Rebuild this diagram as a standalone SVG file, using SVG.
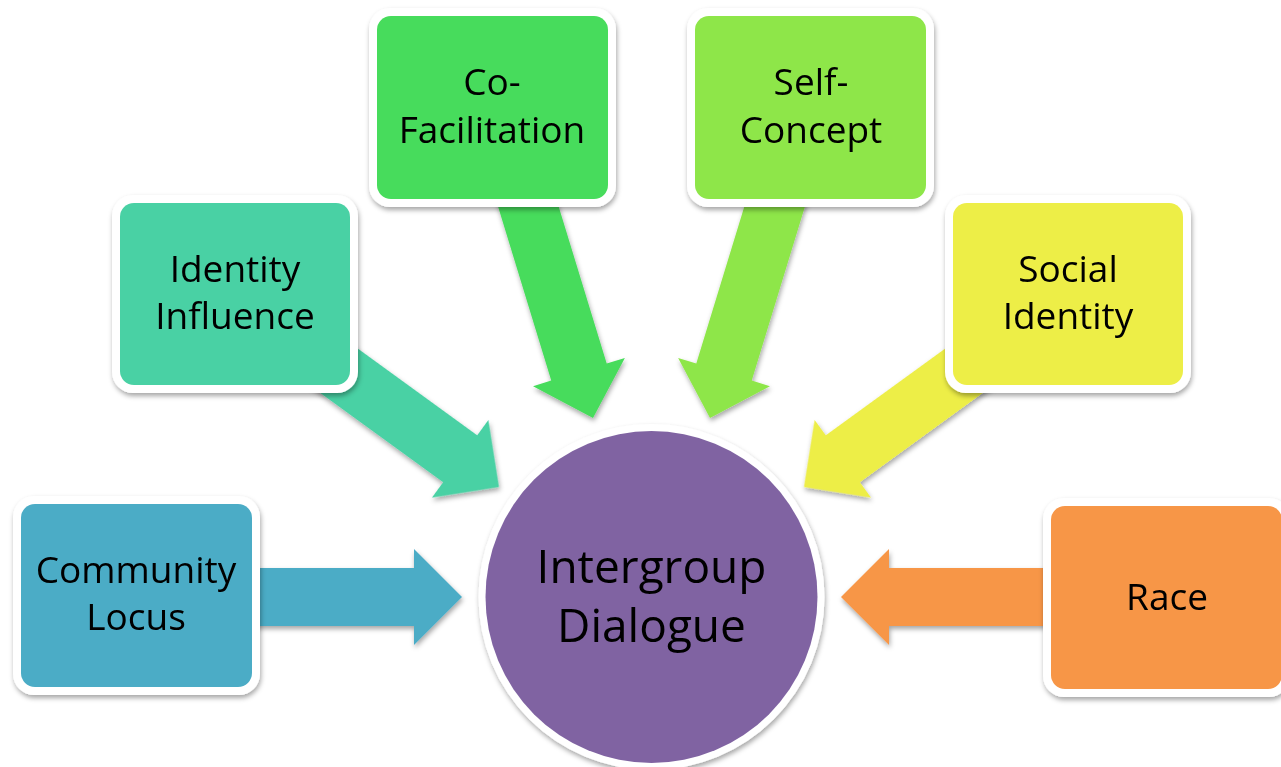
<svg xmlns="http://www.w3.org/2000/svg" width="1281" height="767" viewBox="0 0 1281 767">
  <defs>
    <filter id="shadow" x="-20%" y="-20%" width="140%" height="140%">
      <feDropShadow dx="1" dy="3" stdDeviation="2.5" flood-color="#000" flood-opacity="0.35"/>
    </filter>
    <!-- block arrow pointing along +x, tip at origin -->
    <polygon id="arrow" points="-300,-29 -48,-29 -48,-48 0,0 -48,48 -48,29 -300,29"/>
  </defs>
  <style>
    .frame { fill: #ffffff; }
    .label { font-family: "Open Sans", "Noto Sans", sans-serif; font-size: 37px; fill: #000; text-anchor: middle; }
    .hub { font-family: "Open Sans", "Noto Sans", sans-serif; font-size: 46px; fill: #000; text-anchor: middle; }
  </style>
  <rect width="1281" height="767" fill="#ffffff"/>

  <!-- connectors: block arrows from each box into the hub -->
  <g id="connectors" filter="url(#shadow)">
    <use href="#arrow" transform="translate(462,597)" fill="#4BACC6"/>
    <use href="#arrow" transform="translate(499,487) rotate(36)" fill="#4AD1A4"/>
    <use href="#arrow" transform="translate(593,418) rotate(73)" fill="#47DC5B"/>
    <use href="#arrow" transform="translate(710,418) rotate(107)" fill="#8EE649"/>
    <use href="#arrow" transform="translate(804,487) rotate(144)" fill="#EDEE47"/>
    <use href="#arrow" transform="translate(841,597) rotate(180)" fill="#F79646"/>
  </g>

  <g id="community-locus" filter="url(#shadow)">
    <rect class="frame" x="13" y="496" width="247" height="199" rx="21"/>
    <rect x="21" y="504" width="231" height="183" rx="14" fill="#4BACC6"/>
    <text class="label" x="136" y="583">Community</text>
    <text class="label" x="136" y="630">Locus</text>
  </g>

  <g id="identity-influence" filter="url(#shadow)">
    <rect class="frame" x="112" y="195" width="246" height="198" rx="21"/>
    <rect x="120" y="203" width="230" height="182" rx="14" fill="#4AD1A4"/>
    <text class="label" x="235" y="282">Identity</text>
    <text class="label" x="235" y="329">Influence</text>
  </g>

  <g id="co-facilitation" filter="url(#shadow)">
    <rect class="frame" x="369" y="8" width="247" height="199" rx="21"/>
    <rect x="377" y="16" width="231" height="183" rx="14" fill="#47DC5B"/>
    <text class="label" x="492" y="95">Co-</text>
    <text class="label" x="492" y="143">Facilitation</text>
  </g>

  <g id="self-concept" filter="url(#shadow)">
    <rect class="frame" x="687" y="8" width="247" height="199" rx="21"/>
    <rect x="695" y="16" width="231" height="183" rx="14" fill="#8EE649"/>
    <text class="label" x="811" y="95">Self-</text>
    <text class="label" x="811" y="143">Concept</text>
  </g>

  <g id="social-identity" filter="url(#shadow)">
    <rect class="frame" x="945" y="195" width="246" height="198" rx="21"/>
    <rect x="953" y="203" width="230" height="182" rx="14" fill="#EDEE47"/>
    <text class="label" x="1068" y="282">Social</text>
    <text class="label" x="1068" y="329">Identity</text>
  </g>

  <g id="race" filter="url(#shadow)">
    <rect class="frame" x="1043" y="498" width="247" height="199" rx="21"/>
    <rect x="1051" y="506" width="231" height="183" rx="14" fill="#F79646"/>
    <text class="label" x="1167" y="610">Race</text>
  </g>

  <g id="intergroup-dialogue" filter="url(#shadow)">
    <circle class="frame" cx="651.5" cy="597" r="173"/>
    <circle cx="651.5" cy="597" r="166" fill="#8064A2"/>
    <text class="hub" x="651.5" y="583">Intergroup</text>
    <text class="hub" x="651.5" y="642">Dialogue</text>
  </g>
</svg>
